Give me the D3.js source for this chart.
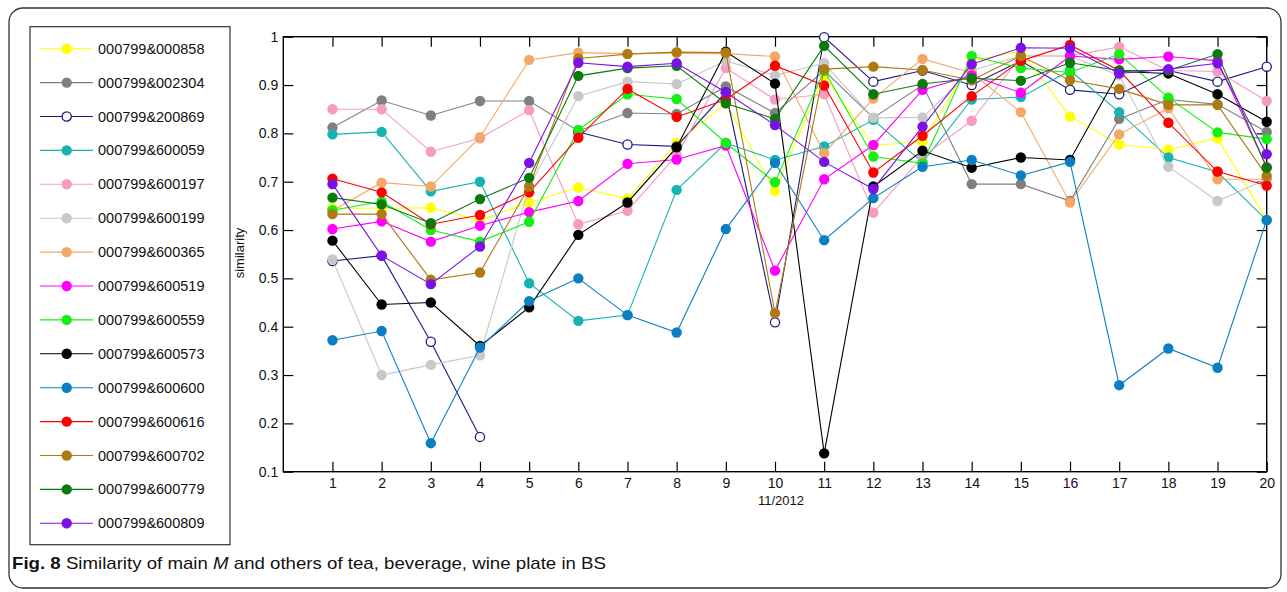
<!DOCTYPE html>
<html>
<head>
<meta charset="utf-8">
<script src="https://cdn.jsdelivr.net/npm/d3@7"></script>
<style>
  body { margin: 0; background: #fff; }
  text { font-family: "Liberation Sans", Arial, sans-serif; fill: #111; }
</style>
</head>
<body>
<div id="chart"></div>
<script>
// x axis: days of 11/2012
const days = d3.range(1, 21);
const yTicks = [0.1, 0.2, 0.3, 0.4, 0.5, 0.6, 0.7, 0.8, 0.9, 1];

const pairNames = ["000799&000858", "000799&002304", "000799&200869", "000799&600059", "000799&600197",
                   "000799&600199", "000799&600365", "000799&600519", "000799&600559", "000799&600573",
                   "000799&600600", "000799&600616", "000799&600702", "000799&600779", "000799&600809"];
const pairColors = ["#ffff00", "#808080", "#1c1c80", "#17b3b3", "#f59cc0",
                    "#c8c8c8", "#f4a866", "#ff00ff", "#14ef14", "#000000",
                    "#0b7fc4", "#ff0000", "#b07a12", "#0a7a0a", "#7a12e6"];

// similarity values, one per day (null = no value)
const s000858 = [0.645, 0.645, 0.646, 0.62, 0.657, 0.688, 0.665, 0.78, 0.862, 0.681, 0.92, 0.775, 0.783, 0.95, 0.97, 0.835, 0.777, 0.766, 0.79, 0.621];
const s002304 = [0.812, 0.868, 0.837, 0.867, 0.867, 0.805, 0.842, 0.84, 0.897, 0.842, 0.93, 0.832, 0.9, 0.695, 0.695, 0.66, 0.83, 0.87, 0.86, 0.803];
const s200869 = [0.536, 0.547, 0.369, 0.172, null, 0.803, 0.777, 0.773, 0.885, 0.409, 0.999, 0.907, 0.93, 0.9, 0.95, 0.89, 0.881, 0.93, 0.907, 0.938];
const s600059 = [0.798, 0.803, 0.68, 0.7, 0.49, 0.412, 0.424, 0.683, 0.78, 0.745, 0.773, 0.828, 0.74, 0.87, 0.875, 0.93, 0.844, 0.75, 0.72, 0.62];
const s600197 = [0.85, 0.85, 0.762, 0.79, 0.848, 0.612, 0.64, 0.755, 0.935, 0.87, 0.881, 0.636, 0.752, 0.826, 0.96, 0.96, 0.979, 0.93, 0.928, 0.867];
const s600199 = [0.539, 0.3, 0.321, 0.341, 0.69, 0.877, 0.907, 0.902, 0.95, 0.92, 0.945, 0.832, 0.833, 0.93, 0.96, 0.96, 0.92, 0.731, 0.66, 0.705];
const s600365 = [0.64, 0.698, 0.69, 0.792, 0.952, 0.967, 0.965, 0.966, 0.965, 0.959, 0.759, 0.872, 0.954, 0.925, 0.844, 0.657, 0.798, 0.852, 0.705, 0.705];
const s600519 = [0.602, 0.618, 0.576, 0.609, 0.637, 0.66, 0.737, 0.746, 0.775, 0.516, 0.705, 0.776, 0.89, 0.92, 0.884, 0.96, 0.953, 0.959, 0.95, 0.73];
const s600559 = [0.641, 0.659, 0.6, 0.576, 0.617, 0.807, 0.881, 0.871, 0.78, 0.699, 0.93, 0.752, 0.738, 0.96, 0.935, 0.926, 0.964, 0.874, 0.802, 0.788];
const s600573 = [0.578, 0.446, 0.45, 0.36, 0.44, 0.59, 0.657, 0.771, 0.969, 0.903, 0.138, 0.69, 0.764, 0.729, 0.75, 0.745, 0.928, 0.924, 0.881, 0.824];
const s600600 = [0.372, 0.391, 0.159, 0.357, 0.453, 0.5, 0.424, 0.388, 0.602, 0.739, 0.579, 0.666, 0.731, 0.745, 0.713, 0.741, 0.279, 0.355, 0.315, 0.621];
const s600616 = [0.706, 0.678, 0.612, 0.631, 0.678, 0.791, 0.892, 0.834, 0.87, 0.94, 0.899, 0.719, 0.795, 0.877, 0.95, 0.983, 0.93, 0.822, 0.721, 0.692];
const s600702 = [0.633, 0.633, 0.497, 0.512, 0.69, 0.955, 0.964, 0.968, 0.967, 0.428, 0.933, 0.938, 0.931, 0.91, 0.96, 0.91, 0.892, 0.859, 0.859, 0.712];
const s600779 = [0.667, 0.653, 0.614, 0.664, 0.708, 0.919, 0.935, 0.94, 0.862, 0.83, 0.981, 0.881, 0.902, 0.914, 0.909, 0.946, 0.93, 0.93, 0.964, 0.729];
const s600809 = [0.695, 0.547, 0.488, 0.566, 0.739, 0.946, 0.938, 0.945, 0.885, 0.817, 0.741, 0.685, 0.814, 0.943, 0.977, 0.976, 0.924, 0.933, 0.945, 0.757];

const seriesValues = [s000858, s002304, s200869, s600059, s600197, s600199, s600365, s600519,
                      s600559, s600573, s600600, s600616, s600702, s600779, s600809];
const openMarker = "000799&200869";

const width = 1287, height = 592;
const plot = { left: 283.3, right: 1266.7, top: 36.7, bottom: 471.7 };

let svg = d3.select("#chart")
    .append("svg")
    .attr("width", width)
    .attr("height", height);

// outer frame of the figure
svg.append("rect")
    .attr("x", 9).attr("y", 8)
    .attr("width", 1272).attr("height", 580)
    .attr("rx", 14)
    .attr("fill", "none")
    .attr("stroke", "#333")
    .attr("stroke-width", 1.3);

let x = d3.scaleLinear().domain([0, 20]).range([plot.left, plot.right]);
let y = d3.scaleLinear().domain([0.1, 1]).range([plot.bottom, plot.top]);

// axes, ticks pointing inwards on all four sides
svg.append("g")
    .attr("transform", `translate(0, ${plot.bottom})`)
    .call(d3.axisBottom(x).tickValues(days).tickSizeInner(-10).tickSizeOuter(0).tickPadding(6));
svg.append("g")
    .attr("transform", `translate(0, ${plot.top})`)
    .call(d3.axisTop(x).tickValues(days).tickSizeInner(-10).tickSizeOuter(0).tickFormat(""));
svg.append("g")
    .attr("transform", `translate(${plot.left}, 0)`)
    .call(d3.axisLeft(y).tickValues(yTicks).tickSizeInner(-10).tickSizeOuter(0).tickPadding(5)
        .tickFormat(d => d === 1 ? "1" : d.toFixed(1)));
svg.append("g")
    .attr("transform", `translate(${plot.right}, 0)`)
    .call(d3.axisRight(y).tickValues(yTicks).tickSizeInner(-10).tickSizeOuter(0).tickFormat(""));

svg.selectAll(".domain").remove();
svg.selectAll(".tick line").attr("stroke", "#000").attr("stroke-width", 1.2);
svg.selectAll(".tick text")
    .style("font-family", "'Liberation Sans', Arial, sans-serif")
    .style("font-size", "14px")
    .attr("fill", "#111");

svg.append("rect")
    .attr("x", plot.left).attr("y", plot.top)
    .attr("width", plot.right - plot.left).attr("height", plot.bottom - plot.top)
    .attr("fill", "none")
    .attr("stroke", "#000")
    .attr("stroke-width", 1.4);

svg.append("text")
    .attr("x", 781).attr("y", 505)
    .style("text-anchor", "middle")
    .style("font-size", "13px")
    .text("11/2012");

svg.append("text")
    .attr("transform", `translate(244, 253) rotate(-90)`)
    .style("text-anchor", "middle")
    .style("font-size", "13px")
    .text("similarity");

// series lines + markers
let line = d3.line()
    .defined(d => d != null)
    .x((d, i) => x(days[i]))
    .y(d => y(d));

let lines = svg.append("g");
pairNames.forEach(function(name, k) {
    let vals = seriesValues[k];
    let g = lines.append("g");
    g.append("path")
        .attr("d", line(vals))
        .attr("fill", "none")
        .attr("stroke", pairColors[k])
        .attr("stroke-width", 1.1);
    g.selectAll("circle")
        .data(vals.map((v, i) => ({ day: days[i], v: v })).filter(d => d.v != null))
        .enter()
        .append("circle")
        .attr("cx", d => x(d.day))
        .attr("cy", d => y(d.v))
        .attr("r", name == openMarker ? 4.6 : 5.2)
        .attr("fill", name == openMarker ? "#fff" : pairColors[k])
        .attr("stroke", pairColors[k])
        .attr("stroke-width", name == openMarker ? 1.3 : 0);
});

// legend
let legend = svg.append("g");
legend.append("rect")
    .attr("x", 30).attr("y", 26.7)
    .attr("width", 200).attr("height", 518)
    .attr("fill", "#fff")
    .attr("stroke", "#333")
    .attr("stroke-width", 1.2);

let items = legend.selectAll("g.item")
    .data(pairNames)
    .enter()
    .append("g")
    .attr("transform", (d, i) => `translate(0, ${48.7 + i * 33.9})`);
items.append("line")
    .attr("x1", 40).attr("x2", 93)
    .attr("stroke", (d, i) => pairColors[i])
    .attr("stroke-width", 1.1);
items.append("circle")
    .attr("cx", 66.7)
    .attr("r", d => d == openMarker ? 4.6 : 5.2)
    .attr("fill", (d, i) => d == openMarker ? "#fff" : pairColors[i])
    .attr("stroke", (d, i) => pairColors[i])
    .attr("stroke-width", d => d == openMarker ? 1.3 : 0);
items.append("text")
    .attr("x", 98)
    .attr("dy", "0.35em")
    .style("font-size", "14.5px")
    .text(d => d);

// caption
let caption = svg.append("text")
    .attr("x", 12).attr("y", 569)
    .attr("textLength", 594)
    .attr("lengthAdjust", "spacingAndGlyphs")
    .style("font-size", "17px")
    .attr("fill", "#222");
caption.append("tspan").style("font-weight", "bold").text("Fig. 8");
caption.append("tspan").text(" Similarity of main ");
caption.append("tspan").style("font-style", "italic").text("M");
caption.append("tspan").text(" and others of tea, beverage, wine plate in BS");
</script>
</body>
</html>
